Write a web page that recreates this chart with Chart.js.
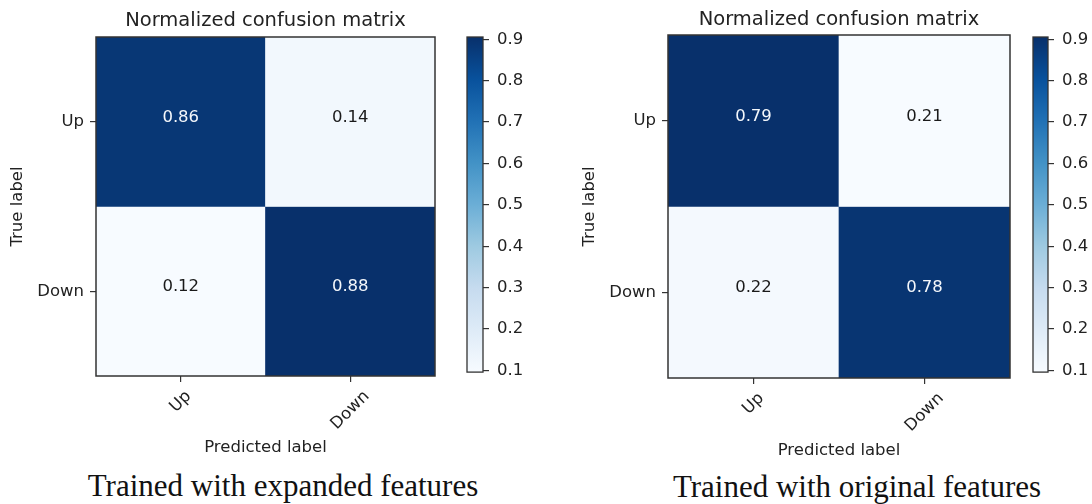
<!DOCTYPE html>
<html>
<head>
<meta charset="utf-8">
<script src="https://cdn.jsdelivr.net/npm/chart.js@4.4.0/dist/chart.umd.min.js"></script>
<style>
  html, body { margin: 0; padding: 0; background: #ffffff; }
  #page { position: relative; width: 1092px; height: 504px; overflow: hidden; background: #ffffff; }
  #page canvas { position: absolute; }
  .caption {
    position: absolute; text-align: center; white-space: nowrap;
    font-family: 'Liberation Serif', 'Times New Roman', serif;
    font-size: 31px; line-height: 31px; color: #111111;
  }
</style>
</head>
<body>
<div id="page">
  <canvas id="cmExpanded" width="445" height="466" style="left:0px;top:0px"></canvas>
  <canvas id="cbExpanded" width="80" height="390" style="left:457px;top:0px"></canvas>
  <canvas id="cmOriginal" width="450" height="468" style="left:570px;top:0px"></canvas>
  <canvas id="cbOriginal" width="69" height="390" style="left:1023px;top:0px"></canvas>
  <div class="caption" id="capExpanded" style="left:23px;top:470px;width:520px"></div>
  <div class="caption" id="capOriginal" style="left:617px;top:471px;width:480px"></div>
</div>
<script>
// ---- data ----
const trueLabels = ['Up', 'Down'];
const predictedLabels = ['Up', 'Down'];
const expandedMatrix = [[0.86, 0.14], [0.12, 0.88]];
const originalMatrix = [[0.79, 0.21], [0.22, 0.78]];
const colorbarTicks = [0.1, 0.2, 0.3, 0.4, 0.5, 0.6, 0.7, 0.8, 0.9];
const colorbarRange = [0.096, 0.9055];
const matrixTitle = 'Normalized confusion matrix';
const xAxisTitle = 'Predicted label';
const yAxisTitle = 'True label';
const captionExpanded = 'Trained with expanded features';
const captionOriginal = 'Trained with original features';

// ---- styling ----
const FONT = "'DejaVu Sans', 'Noto Sans', sans-serif";
const TEXT = '#222222';
const LABEL_SIZE = 16.5;
const FRAME = '#333333';
const BLUES = ['#f7fbff', '#deebf7', '#c6dbef', '#9ecae1', '#6baed6',
               '#4292c6', '#2171b5', '#08519c', '#08306b'];

function hexToRgb(h) {
  return [parseInt(h.slice(1, 3), 16), parseInt(h.slice(3, 5), 16), parseInt(h.slice(5, 7), 16)];
}
// Blues colormap lookup, t in [0, 1]
function blues(t) {
  t = Math.max(0, Math.min(1, t));
  const pos = t * (BLUES.length - 1);
  const i = Math.min(BLUES.length - 2, Math.floor(pos));
  const f = pos - i;
  const a = hexToRgb(BLUES[i]), b = hexToRgb(BLUES[i + 1]);
  const c = a.map((v, k) => Math.round(v + (b[k] - v) * f));
  return `rgb(${c[0]},${c[1]},${c[2]})`;
}

// Annotations, frame and 45-degree column labels for a matrix chart
const matrixPainter = {
  id: 'matrixPainter',
  afterDatasetsDraw(chart, args, opts) {
    const ctx = chart.ctx;
    const { left, right, top, bottom } = chart.chartArea;
    ctx.save();
    ctx.font = `${LABEL_SIZE}px ${FONT}`;
    ctx.textAlign = 'center';
    ctx.textBaseline = 'middle';
    chart.data.datasets.forEach((ds, i) => {
      const meta = chart.getDatasetMeta(i);
      meta.data.forEach((bar, j) => {
        const v = ds.values[j];
        ctx.fillStyle = v > ds.threshold ? '#f4f7fb' : '#1a1a1a';
        ctx.fillText(v.toFixed(2), bar.x, (bar.y + bar.base) / 2 - 4.5);
      });
    });

    ctx.strokeStyle = FRAME;
    ctx.lineWidth = 1.5;
    ctx.strokeRect(left, top, right - left, bottom - top);

    const xs = chart.scales.x;
    ctx.fillStyle = TEXT;
    const h = LABEL_SIZE * 1.17;
    xs.ticks.forEach((t, i) => {
      const label = xs.getLabelForValue(t.value);
      const px = xs.getPixelForTick(i);
      const w = ctx.measureText(label).width;
      const cy = bottom + opts.labelGap + (w + h) * Math.SQRT1_2 / 2;
      ctx.save();
      ctx.translate(px, cy);
      ctx.rotate(-Math.PI / 4);
      ctx.fillText(label, 0, 0);
      ctx.restore();
    });
    ctx.restore();
  }
};

const framePainter = {
  id: 'framePainter',
  afterDatasetsDraw(chart) {
    const { left, right, top, bottom } = chart.chartArea;
    const ctx = chart.ctx;
    ctx.save();
    ctx.strokeStyle = FRAME;
    ctx.lineWidth = 1.3;
    ctx.strokeRect(left, top, right - left, bottom - top);
    ctx.restore();
  }
};

function drawMatrix(id, matrix, g) {
  const flat = matrix.flat();
  const vmin = Math.min(...flat), vmax = Math.max(...flat);
  const threshold = vmax / 2;
  const datasets = trueLabels.map((row, i) => ({
    label: row,
    data: predictedLabels.map(() => [i - 0.5, i + 0.5]),
    values: matrix[i],
    threshold: threshold,
    backgroundColor: matrix[i].map(v => blues((v - vmin) / (vmax - vmin))),
    borderWidth: 0,
    barPercentage: 1,
    categoryPercentage: 1,
    grouped: false
  }));
  return new Chart(document.getElementById(id), {
    type: 'bar',
    data: { labels: predictedLabels, datasets },
    options: {
      responsive: false,
      devicePixelRatio: 1,
      animation: false,
      events: [],
      layout: { padding: { left: 0, right: g.padRight, top: 0, bottom: 0 } },
      plugins: {
        legend: { display: false },
        tooltip: { enabled: false },
        title: {
          display: true, text: matrixTitle, fullSize: false, color: TEXT,
          font: { family: FONT, size: 19.5, weight: 'normal' },
          padding: { top: g.titleTop, bottom: g.titleBottom }
        },
        matrixPainter: { labelGap: g.labelGap }
      },
      scales: {
        x: {
          type: 'category', offset: true,
          afterFit: s => { s.height = g.xAxisHeight; },
          ticks: { display: false },
          grid: { offset: false, drawOnChartArea: false, drawTicks: true, tickLength: 6, color: FRAME, lineWidth: 1.2 },
          border: { display: false },
          title: {
            display: true, text: xAxisTitle, color: TEXT,
            font: { family: FONT, size: LABEL_SIZE },
            padding: { top: 0, bottom: g.xTitlePad }
          }
        },
        y: {
          type: 'linear', min: -0.5, max: trueLabels.length - 0.5, reverse: true,
          afterBuildTicks: s => { s.ticks = trueLabels.map((_, i) => ({ value: i })); },
          afterFit: s => { s.width = g.yAxisWidth; },
          ticks: {
            callback: v => trueLabels[v], color: TEXT, padding: 6, autoSkip: false,
            font: { family: FONT, size: LABEL_SIZE }
          },
          grid: { drawOnChartArea: false, drawTicks: true, tickLength: 6, color: FRAME, lineWidth: 1.2 },
          border: { display: false },
          title: {
            display: true, text: yAxisTitle, color: TEXT,
            font: { family: FONT, size: LABEL_SIZE },
            padding: { top: g.yTitlePad, bottom: 0 }
          }
        }
      }
    },
    plugins: [matrixPainter]
  });
}

function colorbarFill(context) {
  const chart = context.chart;
  const ys = chart.scales.y;
  if (!chart.chartArea || !ys) return BLUES[4];
  const y0 = ys.getPixelForValue(colorbarRange[0]);
  const y1 = ys.getPixelForValue(colorbarRange[1]);
  const grad = chart.ctx.createLinearGradient(0, y0, 0, y1);
  BLUES.forEach((c, k) => grad.addColorStop(k / (BLUES.length - 1), c));
  return grad;
}

function drawColorbar(id, g) {
  return new Chart(document.getElementById(id), {
    type: 'bar',
    data: {
      labels: [''],
      datasets: [{
        data: [colorbarRange],
        backgroundColor: colorbarFill,
        borderWidth: 0, barPercentage: 1, categoryPercentage: 1
      }]
    },
    options: {
      responsive: false,
      devicePixelRatio: 1,
      animation: false,
      events: [],
      layout: { padding: { left: g.padLeft, right: 0, top: g.padTop, bottom: g.padBottom } },
      plugins: { legend: { display: false }, tooltip: { enabled: false } },
      scales: {
        x: { display: false },
        y: {
          position: 'right', min: colorbarRange[0], max: colorbarRange[1],
          afterBuildTicks: s => { s.ticks = colorbarTicks.map(v => ({ value: v })); },
          afterFit: s => { s.width = g.axisWidth; },
          ticks: {
            callback: v => v.toFixed(1), color: TEXT, padding: 8, autoSkip: false,
            font: { family: FONT, size: LABEL_SIZE }
          },
          grid: { drawOnChartArea: false, drawTicks: true, tickLength: 6, color: FRAME, lineWidth: 1.2 },
          border: { display: false }
        }
      }
    },
    plugins: [framePainter]
  });
}

drawMatrix('cmExpanded', expandedMatrix, {
  padRight: 10, titleTop: 9, titleBottom: 4.6, yAxisWidth: 96, yTitlePad: 8,
  xAxisHeight: 90, xTitlePad: 8, labelGap: 11
});
drawColorbar('cbExpanded', { padLeft: 10, padTop: 37, padBottom: 14, axisWidth: 54 });

drawMatrix('cmOriginal', originalMatrix, {
  padRight: 10, titleTop: 8.3, titleBottom: 3.3, yAxisWidth: 98, yTitlePad: 10,
  xAxisHeight: 90, xTitlePad: 7, labelGap: 11
});
drawColorbar('cbOriginal', { padLeft: 10, padTop: 37, padBottom: 15, axisWidth: 44 });

document.getElementById('capExpanded').textContent = captionExpanded;
document.getElementById('capOriginal').textContent = captionOriginal;
</script>
</body>
</html>
